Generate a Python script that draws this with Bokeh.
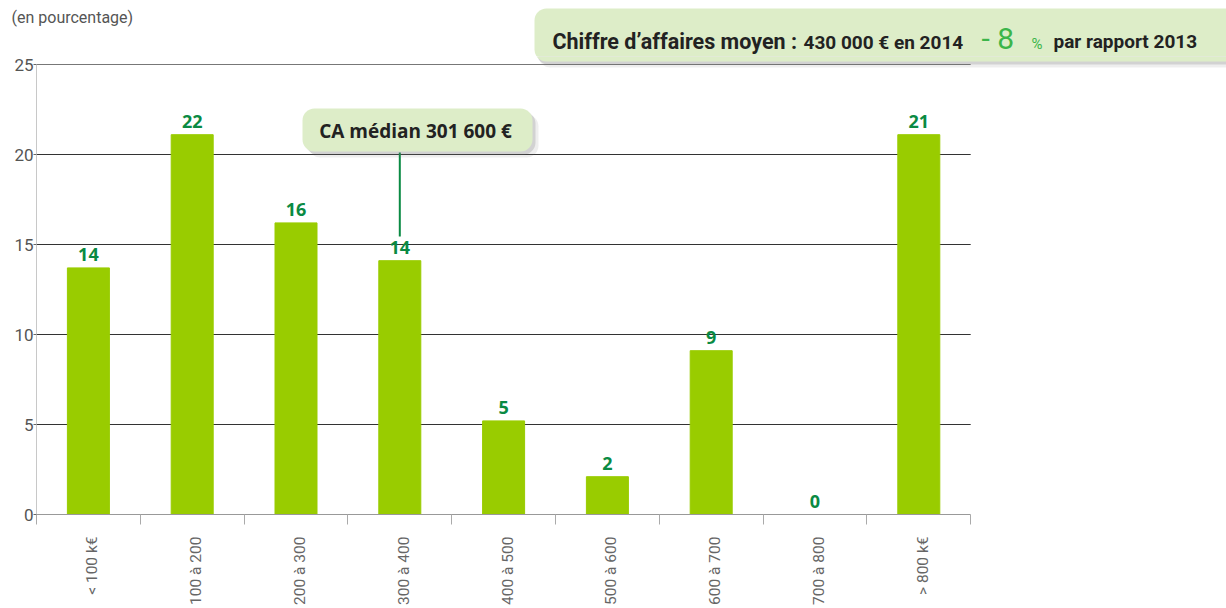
import math
from bokeh.plotting import figure
from bokeh.layouts import column
from bokeh.models import Range1d, FixedTicker, BoxAnnotation, Label
from bokeh.core.properties import value
from bokeh.embed import file_html
from bokeh.resources import INLINE

# ---------------- data ----------------
categories = ["< 100 k€", "100 à 200", "200 à 300", "300 à 400", "400 à 500",
              "500 à 600", "600 à 700", "700 à 800", "> 800 k€"]
shares = [13.7, 21.1, 16.2, 14.1, 5.2, 2.1, 9.1, 0.0, 21.1]
share_labels = ["14", "22", "16", "14", "5", "2", "9", "0", "21"]
y_ticks = [0, 5, 10, 15, 20, 25]
median_index = 3
unit_label = "(en pourcentage)"
median_text = "CA médian 301 600 €"
headline_main = "Chiffre d’affaires moyen :"
headline_value = "430 000 € en 2014"
headline_change = "- 8"
headline_pct = "%"
headline_ref = "par rapport 2013"

# ---------------- geometry (page pixels) ----------------
PAGE_W = 1226
FRAME_L = 36        # page x of value axis
FRAME_B = 514       # page y of category axis
SPLIT = 56          # page y where the chart figure starts
PX_CAT = 103.8      # pixels per category
PX_UNIT = 18.0      # pixels per percentage point


def X(px):
    return (px - FRAME_L) / PX_CAT


def Y(py):
    return (FRAME_B - py) / PX_UNIT


n = len(categories)
centers = [i + 0.5 for i in range(n)]
GREEN_TXT = "#0a8a43"

# ---------------- top strip ----------------
top = figure(width=PAGE_W, height=SPLIT, output_backend="svg", toolbar_location=None,
             x_range=Range1d(X(0), X(PAGE_W)), y_range=Range1d(Y(SPLIT), Y(0)),
             x_axis_location=None, y_axis_location=None, frame_align=False,
             min_border_left=0, min_border_right=0, min_border_top=0, min_border_bottom=0)
top.outline_line_color = None
top.xgrid.visible = False
top.ygrid.visible = False

# ---------------- main chart ----------------
p = figure(frame_width=PAGE_W - FRAME_L, frame_height=FRAME_B - SPLIT,
           output_backend="svg", toolbar_location=None, frame_align=False,
           x_range=Range1d(0, X(PAGE_W)), y_range=Range1d(0, Y(SPLIT)),
           min_border_left=FRAME_L, min_border_right=0, min_border_top=0,
           min_border_bottom=0)
p.outline_line_color = None
p.xgrid.visible = False
p.ygrid.visible = False

# y axis
p.yaxis.ticker = FixedTicker(ticks=y_ticks, minor_ticks=[])
p.yaxis.bounds = (y_ticks[0], y_ticks[-1])
p.yaxis.axis_line_color = "#c8c8c8"
p.yaxis.major_tick_in = 0
p.yaxis.major_tick_out = 3
p.yaxis.major_tick_line_color = "#666666"
p.yaxis.minor_tick_line_color = None
p.yaxis.major_label_text_font = "Roboto"
p.yaxis.major_label_text_font_size = "17px"
p.yaxis.major_label_text_color = "#555555"
p.yaxis.major_label_standoff = 0

# x axis: labels near centres, tick marks at category boundaries
label_pos = [c + 4 / PX_CAT for c in centers]
p.xaxis.ticker = FixedTicker(ticks=label_pos, minor_ticks=list(range(n + 1)))
p.xaxis.bounds = (0, n)
p.xaxis.major_label_overrides = {c: lab for c, lab in zip(label_pos, categories)}
p.xaxis.major_label_orientation = math.pi / 2
p.xaxis.major_label_standoff = 12
p.xaxis.major_label_text_font = "Roboto"
p.xaxis.major_label_text_font_size = "15.5px"
p.xaxis.major_label_text_color = "#666666"
p.xaxis.major_tick_line_color = None
p.xaxis.major_tick_in = 0
p.xaxis.major_tick_out = 0
p.xaxis.minor_tick_in = 0
p.xaxis.minor_tick_out = 10
p.xaxis.minor_tick_line_color = "#aaaaaa"
p.xaxis.axis_line_color = "#999999"

# grid lines
grid_vals = y_ticks[1:]
p.segment(x0=[0] * len(grid_vals), x1=[n] * len(grid_vals), y0=grid_vals, y1=grid_vals,
          line_color=["#333333"] * (len(grid_vals) - 1) + ["#777777"], line_width=1)

# bars
p.vbar(x=centers, top=shares, width=42 / PX_CAT, color="#99cc00")

# value labels (text centre 13 px above the bar top)
p.text(x=centers, y=[s + 13 / PX_UNIT for s in shares], text=share_labels,
       text_font=value("Open Sans"), text_font_style="bold", text_font_size="18px",
       text_color=GREEN_TXT, text_align="center", text_baseline="middle")

# median pointer line
mx = centers[median_index]
p.segment(x0=[mx], x1=[mx], y0=[Y(152)], y1=[Y(236)], line_color=GREEN_TXT, line_width=2)


# ---------------- rounded boxes with shadow ----------------
def shadow_box(fig, l, r, t, b, dx, dy):
    for k, a in ((1.0, 0.22), (2.0, 0.12)):
        fig.add_layout(BoxAnnotation(left=X(l + dx * k), right=X(r + dx * k),
                                     top=Y(t + dy * k), bottom=Y(b + dy * k),
                                     fill_color="#707070", fill_alpha=a,
                                     line_color=None, border_radius=12))
    fig.add_layout(BoxAnnotation(left=X(l), right=X(r), top=Y(t), bottom=Y(b),
                                 fill_color="#ddedc8", fill_alpha=1.0,
                                 line_color=None, border_radius=12))


shadow_box(p, 302, 532, 108, 151, 3, 3)
shadow_box(p, 534, 1240, 8, 61, 2, 3)     # lower part of the headline box
shadow_box(top, 534, 1240, 8, 61, 2, 3)   # upper part of the headline box

p.add_layout(Label(x=X(415), y=Y(130), text=median_text, text_font="Open Sans",
                   text_font_style="bold", text_font_size="19px", text_color="#222222",
                   text_align="center", text_baseline="middle"))


def head(txt, px, cy, size, color="#222222", bold=True):
    top.add_layout(Label(x=X(px), y=Y(cy), text=txt, text_font="Roboto",
                         text_font_style="bold" if bold else "normal",
                         text_font_size=size, text_color=color, text_baseline="middle"))


head(headline_main, 552, 40.5, "21.5px")
head(headline_value, 803, 41.5, "19px")
head(headline_change, 981, 38, "30px", "#3cb54a", bold=False)
head(headline_pct, 1031, 43, "15px", "#3cb54a", bold=False)
head(headline_ref, 1053, 41, "19px")

top.add_layout(Label(x=X(11), y=Y(17), text=unit_label, text_font="Roboto",
                     text_font_size="16px", text_color="#555555", text_baseline="middle"))

layout = column(top, p, spacing=0)
open("out.html", "w").write(file_html(layout, INLINE))
